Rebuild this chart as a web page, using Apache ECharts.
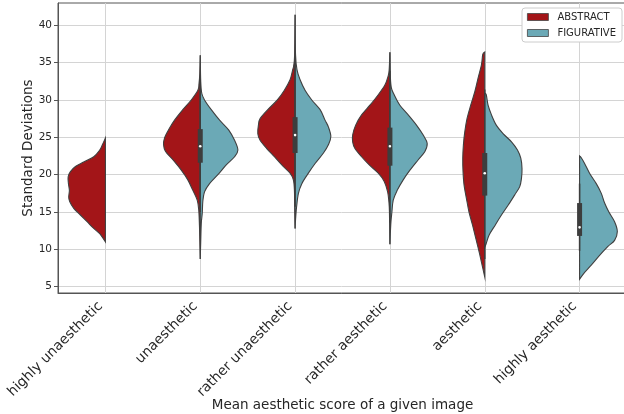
<!DOCTYPE html>
<html>
<head>
<meta charset="utf-8">
<script src="https://cdn.jsdelivr.net/npm/echarts@6/dist/echarts.min.js"></script>
<style>
  html, body { margin: 0; padding: 0; background: #fff; }
  #chart { width: 624px; height: 414px; }
</style>
</head>
<body>
<div id="chart"></div>
<script>
const categories = [
  'highly unaesthetic', 'unaesthetic', 'rather unaesthetic',
  'rather aesthetic', 'aesthetic', 'highly aesthetic'
];

const yTicks = [5, 10, 15, 20, 25, 30, 35, 40];

// Half-violin outlines, top to bottom: [standard deviation, half-width in % of the category band]
const abstractProfiles = [
  [[24.9,0],[24.0,3.2],[23.3,6.0],[22.4,12.3],[21.7,22.9],[21.1,31.6],[20.4,36.9],[19.7,39.3],[18.8,39.0],
   [17.9,38.0],[17.0,38.7],[16.4,37.7],[15.5,33.4],[14.6,26.4],[13.7,19.3],[12.8,12.3],[12.1,6.0],[11.0,0]],
  [[36.0,0],[33.5,0.5],[32.2,1.3],[31.3,2.5],[30.0,9.5],[28.7,18.4],[27.3,27.1],[26.0,33.4],[24.9,37.7],
   [24.0,38.7],[23.1,36.6],[22.0,28.9],[20.6,20.0],[19.3,13.1],[17.9,7.8],[16.6,3.2],[15.3,1.6],[13.0,0.8],[8.7,0]],
  [[41.4,0],[36.0,0.5],[34.5,1.6],[34.0,2.6],[32.7,5.3],[31.3,11.3],[30.0,18.7],[28.7,28.8],[27.5,36.9],
   [26.6,38.7],[25.5,39.3],[24.6,36.9],[23.5,29.9],[22.4,21.8],[21.3,14.0],[20.2,5.3],[19.3,1.8],[17.9,0.7],
   [15.0,0.3],[12.8,0]],
  [[36.4,0],[34.0,0.8],[33.1,2.1],[32.0,5.3],[30.7,12.3],[29.3,21.1],[28.0,29.9],[26.6,36.2],[25.3,39.3],
   [24.4,39.3],[23.5,36.9],[22.4,29.9],[21.3,21.8],[20.2,12.3],[19.1,6.0],[17.7,2.4],[16.4,1.1],[15.0,0.5],[10.7,0]],
  [[36.4,0],[36.1,2.1],[34.7,3.5],[32.9,7.1],[31.1,10.5],[29.3,14.8],[27.5,18.7],[25.7,21.1],[24.0,22.5],
   [22.2,23.2],[20.4,22.9],[18.6,21.8],[16.8,19.3],[15.0,16.6],[13.3,13.0],[11.5,9.5],[9.7,6.0],[7.9,2.8],[6.3,0]],
  null
];

const figurativeProfiles = [
  null,
  [[36.0,0],[32.5,0.5],[30.9,1.6],[30.0,4.5],[28.7,11.6],[27.3,20.4],[26.0,29.9],[24.6,36.2],[23.3,39.7],
   [22.4,36.2],[21.3,27.4],[20.0,18.6],[18.8,9.8],[17.7,4.5],[16.4,2.7],[14.8,2.1],[13.5,1.1],[11.0,0.5],[8.7,0]],
  [[41.4,0],[36.0,0.5],[34.0,2.1],[32.7,5.3],[31.3,10.5],[30.0,17.6],[28.7,26.4],[27.3,31.6],[26.4,35.1],
   [25.1,37.7],[24.0,35.1],[22.9,29.9],[21.5,21.1],[20.2,14.0],[18.8,7.1],[17.5,3.5],[15.7,1.6],[14.0,0.5],[12.8,0]],
  [[36.4,0],[33.0,0.5],[31.6,1.6],[30.7,4.5],[29.3,10.5],[28.0,19.3],[26.6,28.2],[25.3,35.1],[24.2,39.3],
   [23.1,36.9],[22.0,29.9],[20.6,21.1],[19.3,14.0],[17.9,7.7],[16.6,3.5],[15.0,2.1],[13.7,1.1],[12.0,0.4],[10.7,0]],
  [[30.9,0],[30.7,1.6],[29.3,3.5],[28.0,7.1],[26.6,12.3],[25.5,19.3],[24.4,28.2],[23.3,34.5],[22.2,38.0],
   [20.8,39.3],[19.5,38.7],[18.4,36.9],[17.3,31.6],[15.9,24.6],[14.6,17.6],[13.3,11.3],[11.9,4.5],[10.6,1.1],[10.3,0]],
  [[22.5,0],[22.3,1.6],[21.5,5.3],[20.2,10.5],[18.8,17.6],[17.5,22.9],[16.2,26.4],[15.0,30.9],[13.7,36.9],
   [12.4,39.8],[11.2,36.9],[10.4,29.9],[9.2,21.1],[7.9,12.3],[6.8,4.5],[6.0,0]]
];

// Inner box per category: [lower whisker, Q1, median, Q3, upper whisker]
const boxStats = [
  null,
  [15.0, 21.6, 23.8, 26.1, 32.8],
  [15.7, 22.9, 25.3, 27.7, 34.8],
  [13.6, 21.2, 23.8, 26.3, 33.9],
  [8.7, 17.2, 20.2, 22.9, 31.4],
  [9.8, 11.8, 12.95, 16.2, 18.8]
];

const TEXT = '#262626';
const FONT = 'DejaVu Sans';
const OUTLINE = '#404040';

// Smooth outer edge (Catmull-Rom as cubic Béziers), closed straight along the category centre.
function halfViolinPath(pts, cx, side) {
  const keep = x => (side < 0 ? Math.min(x, cx) : Math.max(x, cx));
  let d = 'M' + pts[0][0] + ',' + pts[0][1];
  for (let k = 0; k < pts.length - 1; k++) {
    const p0 = pts[k - 1] || pts[k];
    const p1 = pts[k];
    const p2 = pts[k + 1];
    const p3 = pts[k + 2] || pts[k + 1];
    const c1x = keep(p1[0] + (p2[0] - p0[0]) / 6);
    const c1y = p1[1] + (p2[1] - p0[1]) / 6;
    const c2x = keep(p2[0] - (p3[0] - p1[0]) / 6);
    const c2y = p2[1] - (p3[1] - p1[1]) / 6;
    d += ' C' + c1x + ',' + c1y + ' ' + c2x + ',' + c2y + ' ' + p2[0] + ',' + p2[1];
  }
  return d + ' Z';
}

function violinRenderer(profiles, side) {
  return function (params, api) {
    const i = api.value(0);
    const prof = profiles[i];
    if (!prof) return null;
    const band = api.size([1, 0])[0];
    const cx = api.coord([i, prof[0][0]])[0];
    const pts = prof.map(function (p) {
      const c = api.coord([i, p[0]]);
      return [c[0] + side * p[1] / 100 * band, c[1]];
    });
    return {
      type: 'path',
      shape: { pathData: halfViolinPath(pts, cx, side) },
      style: { fill: api.visual('color'), stroke: OUTLINE, lineWidth: 1.1 }
    };
  };
}

function boxRenderer(params, api) {
  const i = api.value(0);
  const s = boxStats[i];
  if (!s) return null;
  const lo = api.coord([i, s[0]]);
  const q1 = api.coord([i, s[1]]);
  const med = api.coord([i, s[2]]);
  const q3 = api.coord([i, s[3]]);
  const hi = api.coord([i, s[4]]);
  const bw = 5;
  return {
    type: 'group',
    children: [
      { type: 'line', shape: { x1: lo[0], y1: lo[1], x2: hi[0], y2: hi[1] },
        style: { stroke: '#3d3d3d', lineWidth: 1.5 } },
      { type: 'rect', shape: { x: q3[0] - bw / 2, y: q3[1], width: bw, height: q1[1] - q3[1] },
        style: { fill: '#3d3d3d' } },
      { type: 'circle', shape: { cx: med[0], cy: med[1], r: 1.3 },
        style: { fill: '#ffffff' } }
    ]
  };
}

const chart = echarts.init(document.getElementById('chart'), null, { renderer: 'canvas' });

chart.setOption({
  animation: false,
  backgroundColor: '#ffffff',
  grid: {
    left: 58, right: -3, top: 3, bottom: 121,
    outerBoundsMode: 'none',
    containLabel: false,
    show: true, borderColor: '#555555', borderWidth: 1, backgroundColor: 'transparent'
  },
  legend: {
    data: ['ABSTRACT', 'FIGURATIVE'],
    orient: 'vertical',
    right: 2, top: 8,
    padding: [4, 6, 4, 5],
    itemGap: 6,
    itemWidth: 21, itemHeight: 7,
    icon: 'rect',
    itemStyle: { borderColor: '#444444', borderWidth: 0.8 },
    backgroundColor: '#ffffff',
    borderColor: '#cccccc', borderWidth: 1, borderRadius: 3,
    textStyle: { fontFamily: FONT, fontSize: 10, color: TEXT, padding: [0, 0, 0, 4] }
  },
  xAxis: {
    type: 'category',
    data: categories,
    boundaryGap: true,
    axisLine: { lineStyle: { color: '#555555' } },
    axisTick: { alignWithLabel: true, length: 4, lineStyle: { color: '#555555' } },
    axisLabel: {
      interval: 0, rotate: 45, fontSize: 13.8, fontFamily: FONT, color: TEXT,
      margin: 16, verticalAlign: 'bottom'
    },
    splitLine: { show: true, alignWithLabel: true, lineStyle: { color: '#d4d4d4' } },
    name: 'Mean aesthetic score of a given image',
    nameLocation: 'middle', nameGap: 105, nameMoveOverlap: false,
    nameTextStyle: { fontSize: 13.5, fontFamily: FONT, color: TEXT }
  },
  yAxis: {
    type: 'value',
    min: 4.16, max: 42.98,
    axisLine: { show: true, lineStyle: { color: '#555555' } },
    axisTick: { show: true, length: 4, customValues: yTicks, lineStyle: { color: '#555555' } },
    axisLabel: { customValues: yTicks, fontSize: 10.5, fontFamily: FONT, color: TEXT, margin: 6 },
    splitLine: { show: true, lineStyle: { color: '#d4d4d4' } },
    name: 'Standard Deviations',
    nameLocation: 'middle', nameGap: 23, nameMoveOverlap: false,
    nameTextStyle: { fontSize: 13.5, fontFamily: FONT, color: TEXT }
  },
  series: [
    {
      name: 'ABSTRACT', type: 'custom',
      itemStyle: { color: '#a31518' },
      renderItem: violinRenderer(abstractProfiles, -1),
      data: categories.map((c, i) => [i]),
      z: 2
    },
    {
      name: 'FIGURATIVE', type: 'custom',
      itemStyle: { color: '#6ba9b6' },
      renderItem: violinRenderer(figurativeProfiles, 1),
      data: categories.map((c, i) => [i]),
      z: 2
    },
    {
      name: 'box', type: 'custom',
      renderItem: boxRenderer,
      data: categories.map((c, i) => [i]),
      z: 3
    }
  ]
});
</script>
</body>
</html>
